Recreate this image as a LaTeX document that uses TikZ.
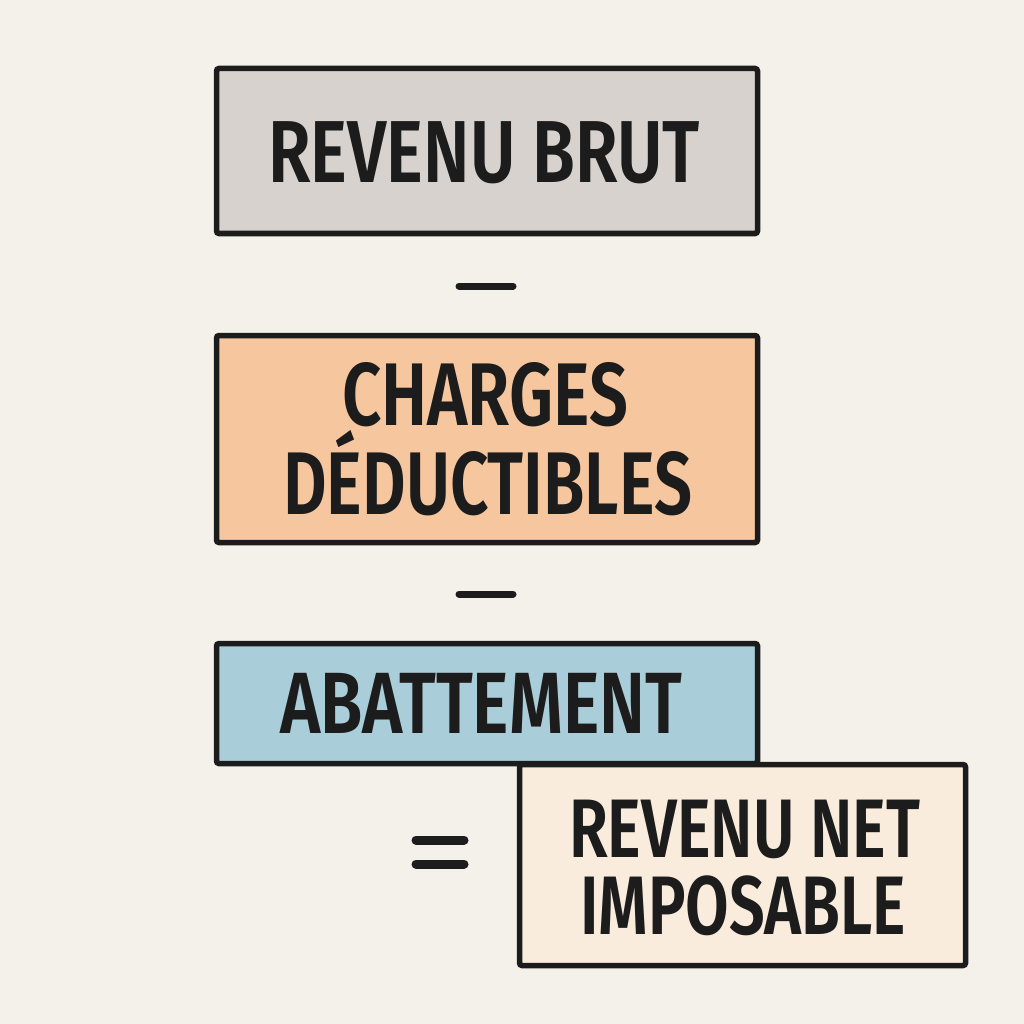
\documentclass[tikz,border=0pt]{standalone}
\usepackage{fontspec}
\setmainfont{Fira Sans}[BoldFont={* SemiBold}]
\usepackage{graphicx}
\definecolor{bg}{HTML}{F4F0EA}
\definecolor{ink}{HTML}{1C1C1C}
\definecolor{cgray}{HTML}{D7D2CD}
\definecolor{cpeach}{HTML}{F6C79E}
\definecolor{cblue}{HTML}{A9CDD9}
\definecolor{ccream}{HTML}{F9ECDD}
\newlength\natw
\newcommand\fitline[3]{{\fontsize{#2}{#2}\selectfont\bfseries\settowidth\natw{#3}\pgfmathsetmacro\sx{#1/\natw}\scalebox{\sx}[1]{#3}}}
\tikzset{
  box/.style={draw=ink, line width=5.5pt, rounded corners=2.5pt, inner sep=0pt},
  lbl/.style={anchor=base, inner sep=0pt, text=ink},
  opbar/.style={draw=ink, line width=7pt, line cap=round},
  eqbar/.style={draw=ink, line width=9pt, line cap=round}
}
\begin{document}
\begin{tikzpicture}[x=1pt,y=-1pt]
\fill[bg] (0,0) rectangle (1024,1024);
\useasboundingbox (0,0) rectangle (1024,1024);
% boxes
\node[box, fill=cgray, minimum width=541pt, minimum height=165pt] (b1) at (487,151) {};
\node[box, fill=cpeach, minimum width=541pt, minimum height=207pt] (b2) at (487,439) {};
\node[box, fill=cblue, minimum width=541pt, minimum height=120pt] (b3) at (487,703.5) {};
\node[box, fill=ccream, minimum width=446pt, minimum height=201pt] (b4) at (742.5,865) {};
% labels
\node[lbl] (t1) at (484,183) {\fitline{432}{88}{REVENU BRUT}};
\node[lbl] (t2a) at (485,425) {\fitline{286}{89}{CHARGES}};
\node[lbl] (t2b) at (487.5,514) {\fitline{409}{89}{DÉDUCTIBLES}};
\node[lbl] (t3) at (481,733) {\fitline{402}{87}{ABATTEMENT}};
\node[lbl] (t4a) at (744.5,857) {\fitline{351}{83}{REVENU NET}};
\node[lbl] (t4b) at (743,934) {\fitline{326}{83}{IMPOSABLE}};
% operators
\coordinate (m1a) at (459,286); \coordinate (m1b) at (513,286);
\coordinate (m2a) at (459,594); \coordinate (m2b) at (513,594);
\coordinate (e1a) at (416,840); \coordinate (e1b) at (464,840);
\coordinate (e2a) at (416,864); \coordinate (e2b) at (464,864);
\draw[opbar] (m1a) -- (m1b);
\draw[opbar] (m2a) -- (m2b);
\draw[eqbar] (e1a) -- (e1b);
\draw[eqbar] (e2a) -- (e2b);
\end{tikzpicture}
\end{document}
